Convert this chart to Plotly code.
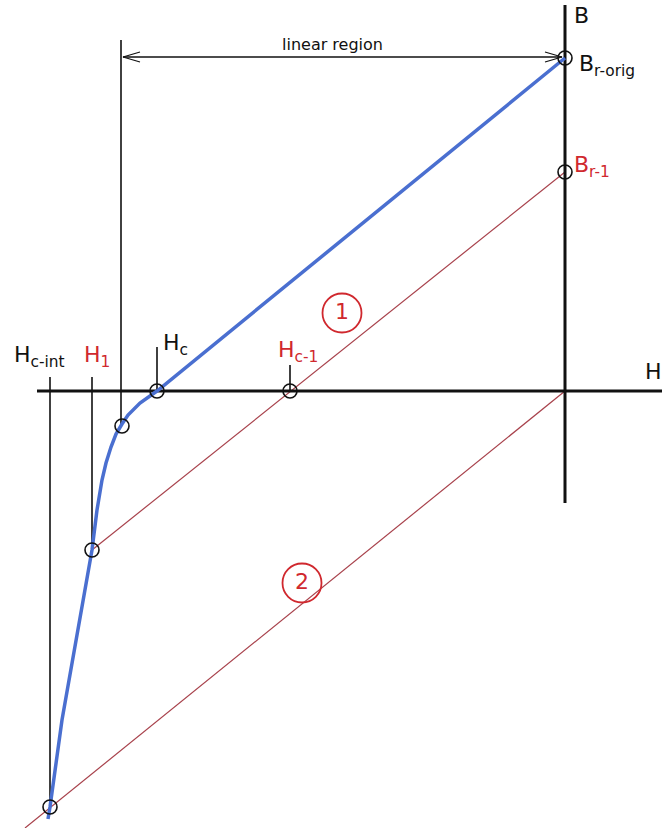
import plotly.graph_objects as go

# Diagram coordinates: H to the right, B upward, origin where the axes cross (pixel-sized units)
H_axis_H = [-528, 97]
H_axis_B = [0, 0]
B_axis_H = [0, 0]
B_axis_B = [386, -112]

# demagnetization curve (blue)
curve_H = [0, -408, -425, -437, -443, -449, -454, -459, -463, -468, -473, -482, -493, -503, -515, -517]
curve_B = [333, 0, -12, -24, -33, -43, -56, -72, -89, -119, -159, -209, -269, -329, -416, -428]

# recoil lines (red)
line1_H = [0, -473]
line1_B = [219, -159]
line2_H = [0, -540]
line2_B = [0, -437]

# thin black guide lines
guide_H = [-515, -515, None, -473, -473, None, -444, -444, None, -408, -408, None, -275, -275]
guide_B = [14, -416, None, 14, -159, None, 351, -35, None, 44, 0, None, 26, 0]

# "linear region" dimension arrow
arrow_H = [-442, -3]
arrow_B = [334, 334]
chev_H = [-425, -442, -425, None, -20, -3, -20]
chev_B = [339, 334, 329, None, 339, 334, 329]

# marked points (open circles)
pts_H = [0, 0, -408, -275, -443, -473, -515]
pts_B = [333, 219, 0, 0, -35, -159, -416]

# circled region numbers
num_text = ["1", "2"]
num_H = [-223, -263]
num_B = [78, -192]

# labels
label_text = ["B", "B<sub>r-orig</sub>", "B<sub>r-1</sub>", "H", "H<sub>c-int</sub>",
              "H<sub>1</sub>", "H<sub>c</sub>", "H<sub>c-1</sub>"]
label_H = [7, 12, 7, 78, -553, -483, -404, -289]
label_B = [376, 326, 225, 20, 35, 35, 47, 40]
label_red = [False, False, True, False, False, True, False, True]

BLACK = "#111111"
RED = "#d0282e"
RED_LINE = "#a8424c"
BLUE = "#4a6fd0"

fig = go.Figure()

def line(x, y, color, width):
    fig.add_trace(go.Scatter(x=x, y=y, mode="lines", line=dict(color=color, width=width),
                             hoverinfo="skip", showlegend=False))

line(line1_H, line1_B, RED_LINE, 1.2)
line(line2_H, line2_B, RED_LINE, 1.2)
line(guide_H, guide_B, BLACK, 1.6)
line(arrow_H, arrow_B, BLACK, 1.3)
line(chev_H, chev_B, BLACK, 1.3)
line(H_axis_H, H_axis_B, BLACK, 3)
line(B_axis_H, B_axis_B, BLACK, 3)
line(curve_H, curve_B, BLUE, 3.5)

fig.add_trace(go.Scatter(x=pts_H, y=pts_B, mode="markers",
                         marker=dict(symbol="circle-open", size=14, color=BLACK,
                                     line=dict(width=1.6, color=BLACK)),
                         hoverinfo="skip", showlegend=False))

fig.add_trace(go.Scatter(x=num_H, y=num_B, mode="markers+text", text=num_text,
                         textposition="middle center",
                         textfont=dict(family="DejaVu Sans", size=22, color=RED),
                         marker=dict(symbol="circle-open", size=39, color=RED,
                                     line=dict(width=1.8, color=RED)),
                         hoverinfo="skip", showlegend=False))

for t, hx, by, red in zip(label_text, label_H, label_B, label_red):
    fig.add_annotation(x=hx, y=by, text=t, showarrow=False, xanchor="left", yanchor="middle",
                       font=dict(family="DejaVu Sans", size=22, color=RED if red else BLACK))

fig.add_annotation(x=-233, y=347, text="linear region", showarrow=False,
                   xanchor="center", yanchor="middle",
                   font=dict(family="DejaVu Sans", size=16, color=BLACK))

fig.update_layout(
    width=662, height=828, autosize=False,
    margin=dict(l=0, r=0, t=0, b=0),
    paper_bgcolor="white", plot_bgcolor="white",
    xaxis=dict(range=[-565, 97], visible=False, fixedrange=True),
    yaxis=dict(range=[-437, 391], visible=False, fixedrange=True),
    showlegend=False,
)

fig.write_html("out.html", config={"displayModeBar": False},
               post_script="document.body.style.margin='0';")
